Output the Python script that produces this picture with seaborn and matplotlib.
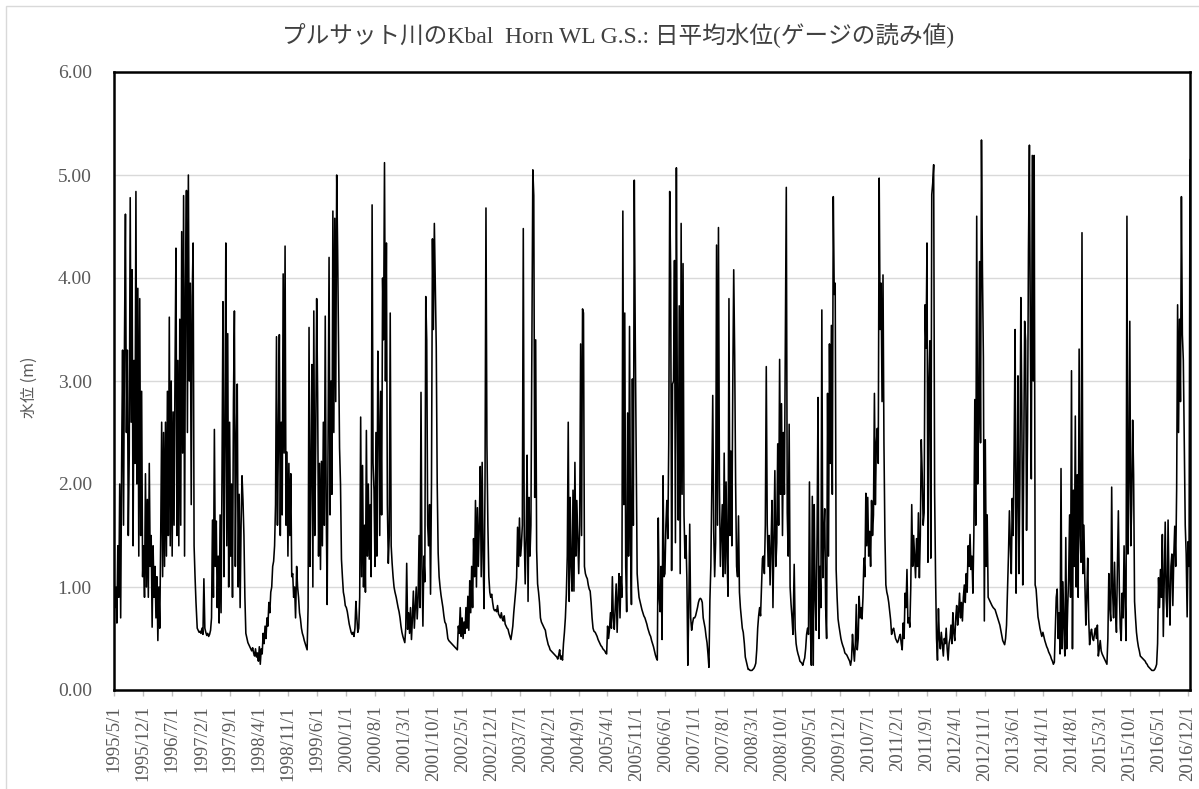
import numpy as np
import pandas as pd
import matplotlib
matplotlib.use('Agg')
import matplotlib.pyplot as plt
import seaborn as sns
from matplotlib.patches import Rectangle

# 日平均水位 (m) を週ごとに読み取った値: 各年 1/1 から 7 日おき (1995 は 5/1 から)
wl_1995 = [1.15, 0.8, 1.0, 0.65, 1.4, 0.9, 2.0, 0.7, 2.2, 3.3, 1.6, 3.4, 4.62, 2.5, 3.3, 1.5, 2.3, 4.78,
           2.6, 4.08, 1.4, 3.2, 2.2, 4.84, 2.0, 3.9, 1.3, 3.8, 1.5, 2.9, 1.1, 1.4, 0.9, 2.1, 1.0]
wl_1996 = [1.85, 0.9, 2.2, 1.2, 1.5, 0.61, 1.4, 0.9, 1.2, 0.7, 1.1, 0.48, 1.0, 0.6, 1.5, 2.6, 1.1, 2.5,
           1.2, 2.6, 1.3, 2.9, 1.5, 3.62, 1.4, 3.0, 1.3, 2.7, 1.6, 3.1, 4.29, 1.5, 3.2, 1.4, 3.6, 1.6,
           4.45, 2.3, 4.8, 1.3, 3.9, 4.85, 2.5, 5.0, 3.0, 3.95, 1.8, 3.82, 4.34, 1.4, 1.1, 0.85]
wl_1997 = [0.6, 0.58, 0.56, 0.57, 0.55, 0.6, 0.54, 1.08, 0.6, 0.56, 0.53, 0.55, 0.52, 0.54, 0.58, 0.7,
           1.65, 0.9, 2.53, 1.2, 1.64, 0.8, 1.3, 0.65, 1.7, 0.75, 2.1, 3.77, 1.1, 2.4, 4.34, 1.4, 3.46,
           1.0, 2.6, 1.3, 2.0, 0.9, 2.8, 3.68, 1.2, 2.4, 2.97, 1.0, 1.9, 0.8, 1.6, 2.08, 1.84, 1.5, 0.9, 0.55]
wl_1998 = [0.5, 0.46, 0.44, 0.42, 0.4, 0.38, 0.41, 0.36, 0.33, 0.4, 0.32, 0.36, 0.28, 0.42, 0.25, 0.4,
           0.35, 0.55, 0.45, 0.62, 0.5, 0.7, 0.62, 0.85, 0.75, 0.95, 1.0, 1.2, 1.25, 1.4, 1.8, 3.43, 1.6,
           2.4, 3.45, 1.5, 2.6, 1.7, 4.04, 2.3, 4.31, 1.6, 2.31, 1.3, 2.2, 1.5, 2.1, 1.1, 1.13, 0.9, 1.0, 0.7]
wl_1999 = [1.2, 1.0, 0.9, 0.75, 0.69, 0.6, 0.55, 0.52, 0.48, 0.45, 0.42, 0.39, 0.8, 3.52, 1.2, 2.1,
           3.16, 1.0, 3.68, 1.5, 2.4, 3.8, 2.89, 1.3, 2.2, 1.17, 2.22, 1.4, 2.6, 1.6, 3.63, 1.8, 0.83,
           2.5, 4.2, 1.7, 3.0, 1.9, 4.65, 2.5, 4.58, 2.8, 5.0, 4.27, 3.3, 2.35, 2.0, 1.27, 1.1, 0.95, 0.9, 0.82]
wl_2000 = [0.8, 0.76, 0.7, 0.64, 0.6, 0.56, 0.54, 0.56, 0.52, 0.6, 0.86, 0.7, 0.56, 0.6, 0.9, 2.65,
           1.1, 2.18, 1.0, 1.6, 0.95, 2.52, 1.3, 2.0, 1.27, 1.8, 1.1, 4.71, 2.2, 1.94, 1.2, 2.5, 1.3,
           3.29, 2.65, 1.5, 2.9, 1.7, 4.0, 3.4, 5.12, 3.0, 4.34, 1.8, 1.23, 1.5, 3.66, 1.4, 1.23, 1.1, 1.0, 0.95]
wl_2001 = [0.9, 0.85, 0.8, 0.76, 0.7, 0.62, 0.56, 0.52, 0.49, 0.46, 0.6, 1.23, 0.59, 0.75, 0.55, 0.8,
           0.49, 0.7, 0.96, 0.6, 0.8, 1.0, 0.69, 0.9, 1.5, 0.8, 2.89, 1.2, 0.62, 1.3, 1.05, 3.82, 3.4,
           1.6, 1.4, 1.8, 0.93, 2.0, 4.38, 3.5, 4.53, 3.94, 3.33, 2.0, 1.33, 1.1, 1.0, 0.92, 0.86, 0.8, 0.72, 0.66]
wl_2002 = [0.64, 0.58, 0.5, 0.48, 0.47, 0.46, 0.45, 0.44, 0.43, 0.42, 0.41, 0.4, 0.39, 0.62, 0.55, 0.8,
           0.52, 0.7, 0.5, 0.66, 0.55, 0.8, 0.6, 0.91, 0.58, 1.06, 0.75, 1.2, 0.8, 1.47, 1.1, 1.84, 1.0,
           1.77, 1.2, 1.6, 2.17, 1.1, 2.21, 1.3, 0.79, 2.0, 4.68, 2.38, 1.6, 1.1, 0.95, 0.9, 0.93, 0.85, 0.79, 0.77]
wl_2003 = [0.78, 0.76, 0.82, 0.74, 0.72, 0.7, 0.75, 0.69, 0.67, 0.72, 0.64, 0.62, 0.6, 0.59, 0.55, 0.52,
           0.49, 0.55, 0.62, 0.75, 0.85, 0.96, 1.09, 1.58, 1.2, 1.67, 1.3, 1.4, 1.6, 4.48, 1.5, 1.03, 1.5,
           2.28, 0.86, 1.87, 1.3, 1.6, 3.36, 5.05, 4.8, 1.87, 3.4, 1.36, 1.03, 0.95, 0.85, 0.7, 0.66, 0.64, 0.62, 0.6]
wl_2004 = [0.58, 0.52, 0.48, 0.44, 0.42, 0.39, 0.38, 0.37, 0.36, 0.35, 0.34, 0.33, 0.32, 0.3, 0.34, 0.39,
           0.3, 0.33, 0.29, 0.45, 0.56, 0.7, 0.93, 1.3, 2.6, 0.86, 1.87, 1.2, 0.96, 1.94, 0.96, 2.21, 1.3,
           1.84, 1.5, 1.13, 1.6, 3.36, 1.5, 3.7, 3.66, 1.2, 1.13, 1.1, 1.08, 1.02, 0.98, 0.96, 0.85, 0.7, 0.6, 0.57]
wl_2005 = [0.56, 0.54, 0.52, 0.49, 0.47, 0.45, 0.43, 0.42, 0.4, 0.39, 0.38, 0.36, 0.35, 0.62, 0.5, 0.59,
           0.75, 0.6, 1.1, 0.7, 0.59, 0.8, 1.03, 0.56, 0.9, 1.13, 0.7, 1.1, 0.9, 4.65, 1.8, 3.66, 1.2,
           0.76, 2.69, 1.3, 3.53, 1.5, 0.83, 3.02, 1.6, 4.95, 3.43, 2.21, 1.13, 1.0, 0.9, 0.86, 0.82, 0.78, 0.75, 0.72]
wl_2006 = [0.7, 0.67, 0.64, 0.6, 0.57, 0.54, 0.52, 0.48, 0.45, 0.42, 0.38, 0.34, 0.31, 0.29, 1.67, 0.9,
           0.76, 1.2, 0.49, 2.08, 1.1, 1.13, 1.6, 1.84, 1.47, 2.4, 4.84, 4.04, 1.16, 2.97, 3.0, 4.17, 1.43,
           5.07, 2.76, 1.65, 3.73, 1.13, 4.53, 1.9, 4.14, 1.7, 1.28, 1.5, 1.09, 0.24, 0.8, 1.61, 0.7, 0.58, 0.65, 0.7]
wl_2007 = [0.7, 0.72, 0.76, 0.8, 0.85, 0.88, 0.89, 0.88, 0.85, 0.7, 0.65, 0.6, 0.52, 0.46, 0.35, 0.22,
           0.87, 1.2, 1.95, 2.86, 1.54, 1.1, 1.43, 4.32, 1.6, 4.49, 2.0, 1.2, 1.5, 1.8, 1.1, 2.3, 1.13,
           2.02, 1.3, 0.91, 3.8, 1.5, 2.32, 1.4, 2.95, 4.08, 3.25, 2.0, 1.2, 1.1, 1.69, 0.95, 0.8, 0.7, 0.6, 0.56]
wl_2008 = [0.45, 0.32, 0.28, 0.24, 0.2, 0.2, 0.19, 0.19, 0.19, 0.2, 0.21, 0.23, 0.26, 0.39, 0.6, 0.72,
           0.8, 0.72, 1.0, 1.28, 1.3, 1.13, 1.6, 3.14, 1.61, 1.2, 1.5, 1.02, 1.4, 1.84, 0.8, 1.5, 2.13,
           1.2, 1.43, 2.39, 1.6, 3.21, 1.9, 2.78, 1.5, 2.5, 1.9, 3.32, 4.88, 1.72, 1.3, 2.58, 1.0, 0.83, 0.7, 0.54]
wl_2009 = [1.22, 0.6, 0.45, 0.39, 0.35, 0.32, 0.28, 0.27, 0.26, 0.24, 0.28, 0.31, 0.4, 0.54, 0.6, 0.54,
           2.02, 0.6, 0.24, 1.88, 0.24, 1.8, 0.9, 0.58, 1.5, 2.84, 0.5, 1.2, 0.8, 3.69, 1.09, 1.5, 1.76,
           0.8, 0.5, 2.88, 1.3, 3.36, 2.2, 3.54, 1.9, 4.79, 3.84, 3.95, 1.17, 0.9, 0.69, 0.62, 0.56, 0.5, 0.46, 0.43]
wl_2010 = [0.4, 0.36, 0.35, 0.34, 0.32, 0.3, 0.28, 0.24, 0.3, 0.54, 0.4, 0.28, 0.45, 0.83, 0.39, 0.5,
           0.91, 0.7, 0.8, 0.69, 0.9, 1.28, 1.1, 1.91, 1.4, 1.87, 1.3, 1.54, 1.2, 1.84, 1.5, 1.7, 2.88,
           1.8, 2.39, 2.54, 2.2, 4.97, 3.5, 3.95, 2.8, 4.03, 2.39, 1.5, 1.02, 0.95, 0.91, 0.85, 0.76, 0.68, 0.54, 0.58]
wl_2011 = [0.6, 0.55, 0.5, 0.48, 0.46, 0.48, 0.52, 0.54, 0.45, 0.39, 0.65, 0.5, 0.94, 0.8, 1.17, 0.65,
           0.7, 0.61, 1.0, 1.8, 1.2, 1.5, 1.3, 1.09, 1.47, 1.2, 1.72, 1.09, 1.5, 2.43, 2.09, 1.6, 1.72,
           3.74, 3.32, 4.34, 1.24, 2.99, 3.39, 1.28, 4.81, 4.92, 5.1, 1.92, 1.09, 0.5, 0.29, 0.79, 0.5, 0.4, 0.56, 0.45]
wl_2012 = [0.33, 0.5, 0.45, 0.6, 0.4, 0.29, 0.45, 0.5, 0.63, 0.45, 0.75, 0.55, 0.48, 0.7, 0.82, 0.63,
           0.75, 0.94, 0.7, 0.85, 0.67, 0.9, 1.02, 0.85, 1.13, 0.95, 1.4, 1.2, 1.51, 1.17, 1.3, 0.94, 1.5,
           2.82, 1.6, 4.6, 2.0, 2.6, 4.16, 2.4, 5.34, 4.08, 3.23, 0.67, 2.43, 1.2, 1.7, 0.9, 0.88, 0.86, 0.84, 0.82]
wl_2013 = [0.8, 0.79, 0.78, 0.75, 0.72, 0.69, 0.66, 0.63, 0.58, 0.53, 0.48, 0.46, 0.44, 0.5, 0.63, 0.98,
           1.3, 1.74, 1.4, 1.13, 1.86, 1.5, 2.34, 3.5, 0.94, 1.8, 3.05, 1.13, 2.0, 3.81, 2.78, 1.02, 2.2,
           3.58, 3.39, 1.55, 2.5, 4.27, 5.29, 3.43, 2.05, 5.19, 3.0, 5.19, 1.02, 0.98, 0.85, 0.71, 0.66, 0.6, 0.56, 0.52]
wl_2014 = [0.56, 0.52, 0.48, 0.45, 0.42, 0.4, 0.37, 0.35, 0.33, 0.3, 0.28, 0.25, 0.27, 0.6, 0.9, 0.98,
           0.5, 0.75, 0.35, 2.15, 0.4, 1.05, 0.6, 0.33, 1.48, 0.4, 0.8, 1.09, 1.7, 0.9, 3.1, 0.4, 1.94,
           1.2, 2.66, 1.0, 2.09, 0.9, 3.31, 1.5, 1.24, 4.44, 1.13, 1.6, 1.06, 0.63, 0.9, 1.28, 0.7, 0.44, 0.55, 0.59]
wl_2015 = [0.5, 0.48, 0.55, 0.6, 0.5, 0.63, 0.33, 0.4, 0.48, 0.38, 0.35, 0.33, 0.31, 0.29, 0.27, 0.25,
           0.5, 1.13, 0.8, 0.67, 1.97, 0.94, 0.7, 1.24, 0.8, 0.56, 1.2, 1.74, 0.98, 0.6, 0.48, 0.94, 0.7,
           1.4, 0.9, 0.48, 4.6, 1.32, 2.0, 3.58, 1.4, 1.8, 2.62, 2.09, 0.86, 0.7, 0.56, 0.48, 0.42, 0.38, 0.33, 0.32]
wl_2016 = [0.31, 0.3, 0.29, 0.28, 0.26, 0.25, 0.23, 0.22, 0.21, 0.2, 0.19, 0.19, 0.19, 0.2, 0.22, 0.25,
           0.45, 1.09, 0.8, 1.17, 0.9, 1.51, 0.52, 1.1, 1.63, 0.9, 0.71, 1.65, 1.0, 0.63, 1.2, 1.32, 0.82,
           1.3, 1.59, 1.2, 1.95, 3.74, 2.5, 3.6, 2.8, 4.79, 3.45, 3.2, 2.39, 1.6, 1.32, 0.71, 1.44, 1.2, 5.15]

years = list(range(1995, 2017))
yearly = [wl_1995, wl_1996, wl_1997, wl_1998, wl_1999, wl_2000, wl_2001, wl_2002, wl_2003, wl_2004, wl_2005,
          wl_2006, wl_2007, wl_2008, wl_2009, wl_2010, wl_2011, wl_2012, wl_2013, wl_2014, wl_2015, wl_2016]

tick_labels = ['1995/5/1', '1995/12/1', '1996/7/1', '1997/2/1', '1997/9/1', '1998/4/1', '1998/11/1',
               '1999/6/1', '2000/1/1', '2000/8/1', '2001/3/1', '2001/10/1', '2002/5/1', '2002/12/1',
               '2003/7/1', '2004/2/1', '2004/9/1', '2005/4/1', '2005/11/1', '2006/6/1', '2007/1/1',
               '2007/8/1', '2008/3/1', '2008/10/1', '2009/5/1', '2009/12/1', '2010/7/1', '2011/2/1',
               '2011/9/1', '2012/4/1', '2012/11/1', '2013/6/1', '2014/1/1', '2014/8/1', '2015/3/1',
               '2015/10/1', '2016/5/1', '2016/12/1']
y_ticks = [0, 1, 2, 3, 4, 5, 6]

title = 'プルサット川のKbal  Horn WL G.S.: 日平均水位(ゲージの読み値)'
ylabel = '水位 (m)'

# データフレームにまとめる
frames = []
for yr, vals in zip(years, yearly):
    start = '1995-05-01' if yr == 1995 else f'{yr}-01-01'
    d = pd.date_range(start, periods=len(vals), freq='7D')
    frames.append(pd.DataFrame({'date': d, 'wl': vals}))
df = pd.concat(frames, ignore_index=True)

sns.set_theme(style='white')
plt.rcParams['font.family'] = ['Liberation Serif', 'Noto Sans CJK JP', 'DejaVu Sans']

W, H = 1199, 789
fig = plt.figure(figsize=(W / 100, H / 100), dpi=100)
ax = fig.add_axes([114 / W, 1 - 690 / H, (1190 - 114) / W, (690 - 72) / H])

sns.lineplot(data=df, x='date', y='wl', color='black', linewidth=1.15,
             estimator=None, sort=False, ax=ax)

ax.set_xlim(pd.Timestamp('1995-05-01'), pd.Timestamp('2016-12-16'))
ax.set_ylim(0, 6)
ax.set_yticks(y_ticks)
ax.set_yticklabels([f'{v:.2f}' for v in y_ticks])
ax.yaxis.grid(True, color='#d9d9d9', linewidth=1.0)
ax.xaxis.grid(False)
ax.set_axisbelow(True)

ax.set_xticks(pd.to_datetime(tick_labels, format='%Y/%m/%d'))
ax.set_xticklabels(tick_labels, rotation=90)

for s in ax.spines.values():
    s.set_visible(True)
    s.set_color('black')
    s.set_linewidth(1.8)

ax.tick_params(axis='x', which='major', bottom=True, length=4, width=1, color='#bfbfbf',
               direction='out', pad=7, labelsize=13.5, labelcolor='#595959')
ax.tick_params(axis='y', which='major', left=False, length=0, pad=16,
               labelsize=14, labelcolor='#595959')

ax.set_xlabel('')
ax.set_ylabel(ylabel, family=['Noto Sans CJK JP', 'DejaVu Sans'], fontsize=11.5, color='#595959')
ax.yaxis.set_label_coords(-0.0706, 0.49)

fig.text(618 / W, 1 - 35 / H, title, ha='center', va='center', fontsize=17, color='#404040',
         family=['Liberation Serif', 'Noto Sans CJK JP'])

# グラフエリアの枠
fig.patches.append(Rectangle((6 / W, -0.5), 1.5, 0.5 + 1 - 6 / H, transform=fig.transFigure,
                             fill=False, edgecolor='#d9d9d9', linewidth=1.0))

fig.savefig('out.png', dpi=100)
